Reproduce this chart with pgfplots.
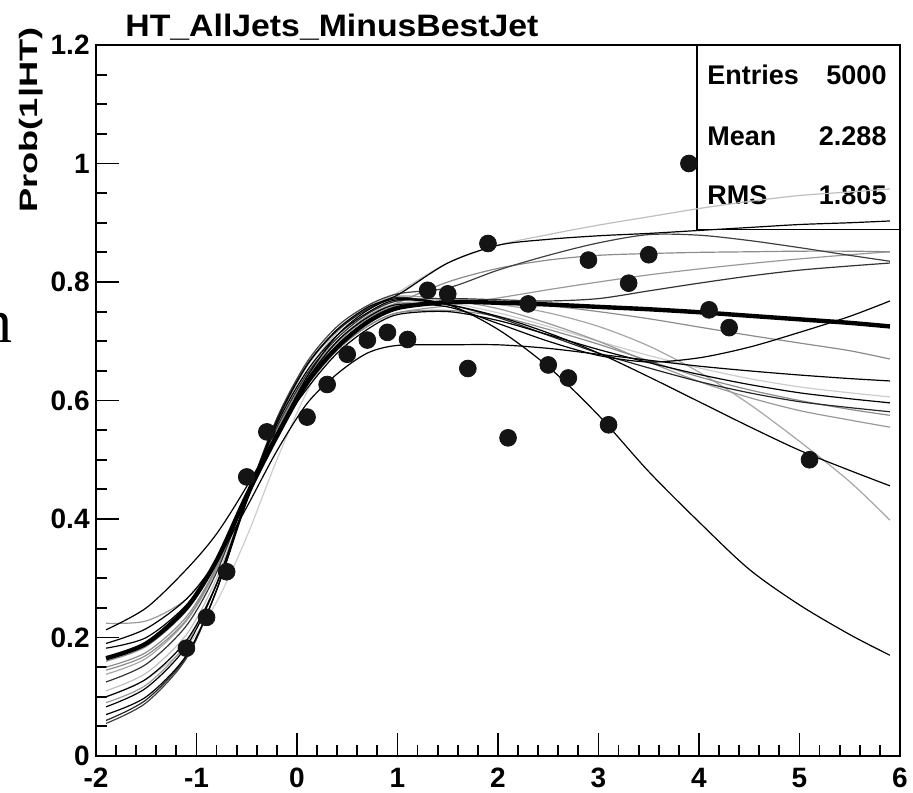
\documentclass[border=0pt]{standalone}
\usepackage{fontspec}
\setmainfont{Liberation Sans}
\newfontfamily\serifn{Liberation Serif}
\usepackage{graphicx}
\usepackage{pgfplots}
\usepackage{pgfplotstable}
\pgfplotsset{compat=1.18}

\pgfplotstableread{
x c1 c2 c3 c4 c5 c6 c7 c8 c9 c10 c11 c12 c13 c14 c15 c16 c17 c18
-1.9 0.165 0.213 0.11 0.083 0.055 0.15 0.125 0.224 0.182 0.19 0.16 0.07 0.138 0.10 0.10 0.06 0.145 0.09
-1.5 0.19 0.25 0.14 0.115 0.09 0.175 0.155 0.228 0.20 0.215 0.185 0.10 0.165 0.13 0.13 0.095 0.17 0.12
-1.1 0.25 0.315 0.205 0.185 0.165 0.235 0.22 0.265 0.255 0.265 0.245 0.17 0.228 0.185 0.195 0.168 0.23 0.19
-0.8 0.33 0.375 0.30 0.29 0.28 0.32 0.31 0.33 0.33 0.33 0.325 0.28 0.315 0.26 0.29 0.28 0.318 0.292
-0.5 0.44 0.455 0.435 0.435 0.435 0.44 0.44 0.435 0.44 0.42 0.44 0.43 0.44 0.37 0.43 0.435 0.44 0.435
-0.2 0.54 0.545 0.56 0.565 0.57 0.55 0.555 0.535 0.545 0.515 0.548 0.56 0.552 0.50 0.545 0.568 0.545 0.563
0.1 0.63 0.64 0.65 0.66 0.665 0.64 0.645 0.625 0.635 0.595 0.638 0.65 0.642 0.615 0.62 0.66 0.625 0.658
0.4 0.69 0.71 0.715 0.72 0.725 0.70 0.705 0.685 0.70 0.645 0.698 0.71 0.70 0.695 0.68 0.718 0.685 0.718
0.7 0.732 0.752 0.757 0.757 0.76 0.742 0.746 0.725 0.74 0.68 0.738 0.748 0.742 0.742 0.72 0.754 0.725 0.755
1.0 0.756 0.772 0.782 0.778 0.78 0.765 0.768 0.748 0.762 0.693 0.76 0.77 0.764 0.768 0.745 0.774 0.748 0.776
1.5 0.766 0.762 0.832 0.832 0.79 0.80 0.772 0.76 0.758 0.694 0.768 0.762 0.766 0.765 0.75 0.762 0.752 0.77
2.0 0.765 0.72 0.862 0.862 0.82 0.823 0.77 0.773 0.73 0.694 0.766 0.742 0.762 0.748 0.735 0.74 0.742 0.755
2.5 0.762 0.657 0.88 0.872 0.845 0.837 0.768 0.787 0.70 0.688 0.76 0.714 0.748 0.725 0.711 0.71 0.72 0.73
3.0 0.758 0.575 0.896 0.878 0.866 0.845 0.772 0.80 0.676 0.678 0.75 0.68 0.725 0.70 0.686 0.68 0.695 0.70
3.5 0.754 0.48 0.91 0.882 0.88 0.848 0.785 0.812 0.665 0.668 0.738 0.64 0.692 0.676 0.664 0.655 0.667 0.665
4.0 0.749 0.395 0.924 0.887 0.879 0.85 0.798 0.822 0.672 0.658 0.724 0.598 0.648 0.655 0.644 0.632 0.64 0.632
4.5 0.743 0.315 0.936 0.892 0.87 0.851 0.81 0.831 0.69 0.65 0.71 0.556 0.594 0.637 0.627 0.613 0.618 0.605
5.0 0.737 0.255 0.946 0.897 0.858 0.852 0.82 0.839 0.715 0.643 0.697 0.516 0.531 0.623 0.613 0.598 0.60 0.583
5.5 0.731 0.205 0.952 0.90 0.845 0.852 0.827 0.846 0.742 0.637 0.684 0.482 0.463 0.613 0.603 0.588 0.585 0.567
5.9 0.725 0.17 0.957 0.903 0.835 0.851 0.832 0.851 0.768 0.633 0.67 0.456 0.398 0.606 0.596 0.581 0.575 0.555
}\fits

\begin{document}
\begin{tikzpicture}
\useasboundingbox (-48pt,-18pt) rectangle (408.5pt,378pt);
\begin{axis}[
  at={(0,0)}, anchor=south west, scale only axis,
  width=402pt, height=355.5pt,
  xmin=-2, xmax=6, ymin=0, ymax=1.2,
  xtick={-2,-1,0,1,2,3,4,5,6},
  xticklabels={-2,-1,0,1,2,3,4,5,6},
  ytick={0,0.2,0.4,0.6,0.8,1,1.2},
  yticklabels={0,0.2,0.4,0.6,0.8,1,1.2},
  minor x tick num=4, minor y tick num=3,
  tick align=inside, xtick pos=bottom, ytick pos=left,
  major tick length=11.5pt, minor tick length=5.5pt,
  tick style={black, line width=0.9pt},
  axis line style={line width=1pt},
  ticklabel style={font=\fontsize{14}{16}\selectfont\bfseries},
  xticklabel style={anchor=north, inner sep=0pt, yshift=-6pt},
  yticklabel style={anchor=east, inner sep=0pt, xshift=-3pt},
  every axis plot/.append style={smooth},
]
\addplot[only marks, mark=*, mark size=4.2pt, black!92] coordinates {
(-1.1,0.182) (-0.9,0.234) (-0.7,0.311) (-0.5,0.471) (-0.3,0.547)
(0.1,0.572) (0.3,0.627) (0.5,0.678) (0.7,0.702) (0.9,0.715)
(1.1,0.703) (1.3,0.786) (1.5,0.780) (1.7,0.654) (1.9,0.865)
(2.1,0.537) (2.3,0.763) (2.5,0.660) (2.7,0.638) (2.9,0.837)
(3.1,0.559) (3.3,0.798) (3.5,0.846) (3.9,1.0) (4.1,0.753)
(4.3,0.723) (5.1,0.500)};
\draw[line width=0.7pt, fill=white] (3.98,0.889) rectangle (6,1.2);
\node[anchor=base west, font=\fontsize{13.5}{15}\selectfont\bfseries, inner sep=0pt] at (4.08,1.1325) {Entries};
\node[anchor=base east, font=\fontsize{13.5}{15}\selectfont\bfseries, inner sep=0pt] at (5.87,1.1325) {5000};
\node[anchor=base west, font=\fontsize{13.5}{15}\selectfont\bfseries, inner sep=0pt] at (4.08,1.031) {Mean};
\node[anchor=base east, font=\fontsize{13.5}{15}\selectfont\bfseries, inner sep=0pt] at (5.87,1.031) {2.288};
\node[anchor=base west, font=\fontsize{13.5}{15}\selectfont\bfseries, inner sep=0pt] at (4.08,0.930) {RMS};
\node[anchor=base east, font=\fontsize{13.5}{15}\selectfont\bfseries, inner sep=0pt] at (5.87,0.930) {1.805};
% fits, light first
\addplot[black!20, line width=0.6pt] table[x=x, y=c14] {\fits};
\addplot[black!25, line width=0.6pt] table[x=x, y=c3] {\fits};
\addplot[black!35, line width=0.6pt] table[x=x, y=c13] {\fits};
\addplot[black!40, line width=0.6pt] table[x=x, y=c8] {\fits};
\addplot[black!40, line width=0.6pt] table[x=x, y=c18] {\fits};
\addplot[black!45, line width=0.6pt] table[x=x, y=c6] {\fits};
\addplot[black!45, line width=0.6pt] table[x=x, y=c11] {\fits};
\addplot[black!45, line width=0.6pt] table[x=x, y=c17] {\fits};
\addplot[black!75, line width=0.6pt] table[x=x, y=c5] {\fits};
\addplot[black!80, line width=0.6pt] table[x=x, y=c7] {\fits};
\addplot[black!85, line width=0.6pt] table[x=x, y=c16] {\fits};
\addplot[black, line width=0.6pt] table[x=x, y=c2] {\fits};
\addplot[black, line width=0.6pt] table[x=x, y=c4] {\fits};
\addplot[black, line width=0.6pt] table[x=x, y=c9] {\fits};
\addplot[black, line width=0.6pt] table[x=x, y=c10] {\fits};
\addplot[black, line width=0.6pt] table[x=x, y=c12] {\fits};
\addplot[black, line width=0.6pt] table[x=x, y=c15] {\fits};
\addplot[black, line width=2.2pt] table[x=x, y=c1] {\fits};
\end{axis}
\node[anchor=base west, inner sep=0pt, font=\fontsize{15.5}{17}\selectfont\bfseries] at (14.5pt,359.5pt) {\scalebox{1.09}[1]{HT\_AllJets\_MinusBestJet}};
\node[rotate=90, inner sep=0pt, font=\fontsize{12.6}{14}\selectfont\bfseries] at (-32.5pt,318pt) {\scalebox{1.44}[1]{Prob(1|HT)}};
\node[anchor=base east, inner sep=0pt, font=\serifn\fontsize{31}{33}\selectfont] at (-41.5pt,206.5pt) {n};
\end{tikzpicture}
\end{document}
